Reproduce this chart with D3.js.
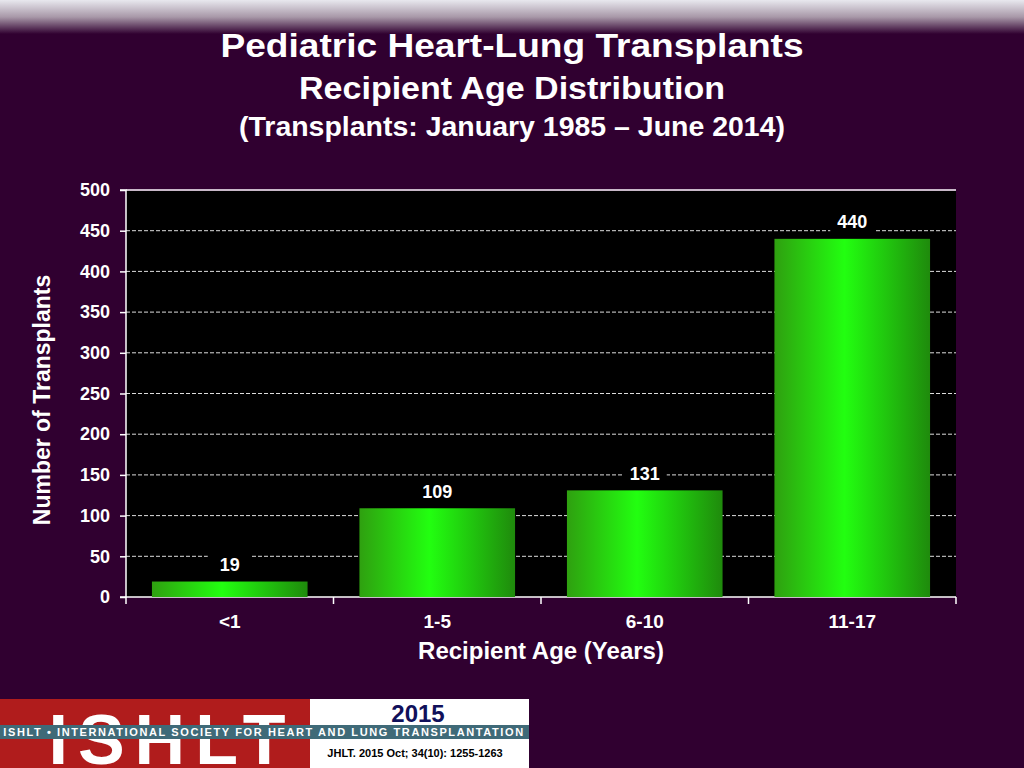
<!DOCTYPE html>
<html><head><meta charset="utf-8">
<script src="https://cdn.jsdelivr.net/npm/d3@7"></script>
<style>body{margin:0;background:#300030;}svg{display:block;font-family:Arial,"Liberation Sans",sans-serif;}</style>
</head><body><svg id="c" width="1024" height="768"></svg>
<script>
const categories = ["<1","1-5","6-10","11-17"];
const values = [19,109,131,440];
const yTicks = [0,50,100,150,200,250,300,350,400,450,500];

const svg = d3.select("#c");
const defs = svg.append("defs");
const tg = defs.append("linearGradient").attr("id","top").attr("x1",0).attr("x2",0).attr("y1",0).attr("y2",1);
tg.append("stop").attr("offset",0).attr("stop-color","#e8e8ee");
tg.append("stop").attr("offset",0.5).attr("stop-color","#a898a8");
tg.append("stop").attr("offset",1).attr("stop-color","#300030");
const bg = defs.append("linearGradient").attr("id","bar").attr("x1",0).attr("x2",1);
bg.append("stop").attr("offset",0).attr("stop-color","#2fa010");
bg.append("stop").attr("offset",0.45).attr("stop-color","#22ff10");
bg.append("stop").attr("offset",1).attr("stop-color","#1f8a0c");

svg.append("rect").attr("width",1024).attr("height",768).attr("fill","#300030");
svg.append("rect").attr("width",1024).attr("height",34).attr("fill","url(#top)");

const t = svg.append("g").attr("fill","#fff").attr("font-weight","bold").attr("text-anchor","middle");
t.append("text").attr("x",512).attr("y",57).attr("font-size",34).attr("textLength",583).attr("lengthAdjust","spacingAndGlyphs").text("Pediatric Heart-Lung Transplants");
t.append("text").attr("x",512).attr("y",99).attr("font-size",31).attr("textLength",426).attr("lengthAdjust","spacingAndGlyphs").text("Recipient Age Distribution");
t.append("text").attr("x",512).attr("y",136).attr("font-size",27).attr("textLength",546).attr("lengthAdjust","spacingAndGlyphs").text("(Transplants: January 1985 – June 2014)");

const L=126,R=956,T=190,B=597;
const x = d3.scaleBand().domain(categories).range([L,R]).paddingInner(0.25).paddingOuter(0.125);
const y = d3.scaleLinear().domain([0,500]).range([B,T]);

svg.append("rect").attr("x",L).attr("y",T).attr("width",R-L).attr("height",B-T).attr("fill","#000");
svg.append("g").selectAll("line").data(yTicks.filter(d=>d>0)).join("line")
 .attr("x1",L).attr("x2",R).attr("y1",d=>y(d)).attr("y2",d=>y(d))
 .attr("stroke",d=>d===500?"#c8b8c8":"#ddd").attr("stroke-width",d=>d===500?2:1)
 .attr("stroke-dasharray",d=>d===500?null:"4,2");

const ya = svg.append("g").attr("transform",`translate(${L},0)`).call(d3.axisLeft(y).tickValues(yTicks).tickSize(6).tickPadding(10));
ya.selectAll("text").attr("fill","#fff").attr("font-size",18).attr("font-weight","bold");
ya.selectAll("line,path").attr("stroke","#fff").attr("stroke-width",1.5);
ya.select("path").attr("d",`M-6,${T}H0V${B}H-6`);

const xa = svg.append("g").attr("transform",`translate(0,${B})`).call(d3.axisBottom(x).tickSize(0).tickPadding(18));
xa.selectAll("text").attr("fill","#fff").attr("font-size",19).attr("font-weight","bold");
xa.select("path").attr("stroke","#fff").attr("stroke-width",1.5).attr("d",`M${L},0H${R}`);
const step = x.step();
svg.append("g").selectAll("line").data(d3.range(categories.length+1)).join("line")
 .attr("x1",d=>L+d*step).attr("x2",d=>L+d*step).attr("y1",B).attr("y2",B+7).attr("stroke","#fff").attr("stroke-width",1.5);

svg.append("g").selectAll("rect").data(values).join("rect")
 .attr("x",(d,i)=>x(categories[i])).attr("width",x.bandwidth())
 .attr("y",d=>y(d)).attr("height",d=>B-y(d)).attr("fill","url(#bar)");

const lab = svg.append("g").selectAll("g").data(values).join("g")
 .attr("transform",(d,i)=>`translate(${x(categories[i])+x.bandwidth()/2},${y(d)-17})`);
lab.append("rect").attr("x",-22).attr("y",-11).attr("width",44).attr("height",22).attr("fill","#000");
lab.append("text").attr("text-anchor","middle").attr("dy","0.35em").attr("fill","#fff")
 .attr("font-size",18).attr("font-weight","bold").text(d=>d);

svg.append("text").attr("x",541).attr("y",659).attr("text-anchor","middle").attr("fill","#fff")
 .attr("font-size",24).attr("font-weight","bold").text("Recipient Age (Years)");
svg.append("text").attr("transform","translate(50,400) rotate(-90)").attr("text-anchor","middle").attr("fill","#fff")
 .attr("font-size",23).attr("font-weight","bold").text("Number of Transplants");

// ISHLT logo banner
const g = svg.append("g");
g.append("rect").attr("x",0).attr("y",699).attr("width",310).attr("height",69).attr("fill","#b01c1c");
g.append("rect").attr("x",310).attr("y",699).attr("width",219).attr("height",69).attr("fill","#fff");
g.append("text").attr("x",172).attr("y",764).attr("text-anchor","middle").attr("fill","#fff")
 .attr("font-size",70).attr("font-weight","bold").attr("letter-spacing",10).text("ISHLT");
g.append("rect").attr("x",0).attr("y",725).attr("width",529).attr("height",14).attr("fill","#3f6a78");
g.append("text").attr("x",264).attr("y",736).attr("text-anchor","middle").attr("fill","#fff")
 .attr("font-size",11).attr("font-weight","bold").attr("letter-spacing",1.6).text("ISHLT • INTERNATIONAL SOCIETY FOR HEART AND LUNG TRANSPLANTATION");
g.append("text").attr("x",418).attr("y",722).attr("text-anchor","middle").attr("fill","#10105a")
 .attr("font-size",24).attr("font-weight","bold").text("2015");
g.append("text").attr("x",415).attr("y",757).attr("text-anchor","middle").attr("fill","#000")
 .attr("font-size",11).attr("font-weight","bold").text("JHLT. 2015 Oct; 34(10): 1255-1263");
</script></body></html>
